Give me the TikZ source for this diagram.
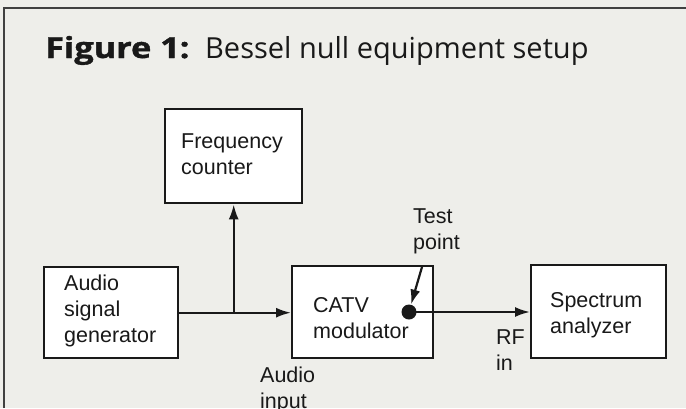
\documentclass[tikz,border=0pt]{standalone}
\usepackage{fontspec}
\setmainfont{Liberation Sans}
\newfontfamily\titlefont[BoldFeatures={FakeBold=1.2}]{Open Sans}
\usetikzlibrary{arrows.meta}
\definecolor{bgcol}{RGB}{238,238,234}
\definecolor{ink}{RGB}{25,25,25}
\begin{document}
\begin{tikzpicture}[x=1pt,y=-1pt,
  box/.style={draw=ink, line width=2.4pt, fill=white, rectangle, inner sep=0pt, anchor=north west},
  lbl/.style={anchor=base west, inner sep=0pt, align=left, text=ink, font=\fontsize{21.5}{26}\selectfont},
  arr/.style={draw=ink, line width=2.2pt, -{Latex[length=15pt,width=10pt]}},
  frame/.style={draw=black!75, line width=2.8pt},
  ttl/.style={anchor=base west, inner sep=0pt, text=ink}]
\useasboundingbox (0,0) rectangle (686,408);
\fill[bgcol] (0,0) rectangle (686,408);
\draw[frame] (4,408) -- (4,8) -- (686,8);
\node[ttl] (title1) at (45,58)
  {\titlefont\fontsize{29}{34}\selectfont\scalebox{1.18}[1]{\bfseries Figure 1:}};
\node[ttl] (title2) at (205,58)
  {\titlefont\fontsize{29}{34}\selectfont Bessel null equipment setup};
% boxes
\node[box, minimum width=137pt, minimum height=94pt] (fc) at (164,108) {};
\node[box, minimum width=134pt, minimum height=91pt] (gen) at (43,266) {};
\node[box, minimum width=141pt, minimum height=92pt] (catv) at (291,265) {};
\node[box, minimum width=135pt, minimum height=93pt] (sa) at (530,264) {};
% box texts (anchored at the baseline of the last line)
\node[lbl] (fct) at (181,174) {Frequency\\counter};
\node[lbl] (gent) at (64,342) {Audio\\signal\\generator};
\node[lbl] (catvt) at (313,338) {CATV\\modulator};
\node[lbl] (sat) at (550,333) {Spectrum\\analyzer};
% labels
\node[lbl] (testl) at (413,249) {Test\\point};
\node[lbl] (rfl) at (496,370) {RF\\in};
\node[lbl] (ail) at (260,408) {Audio\\input};
% connectors
\coordinate (j) at (fc.south |- gen.east);
\draw[arr] (gen.east) -- (catv.west |- gen.east);
\draw[arr] (j) -- (fc.south);
\node[circle, fill=ink, minimum size=15pt, inner sep=0pt] (tp) at (409,312) {};
\draw[arr] (tp.center) -- (sa.west |- tp.center);
\coordinate (ts) at (422,267);
\draw[arr] (ts) -- (tp.75);
\end{tikzpicture}
\end{document}
